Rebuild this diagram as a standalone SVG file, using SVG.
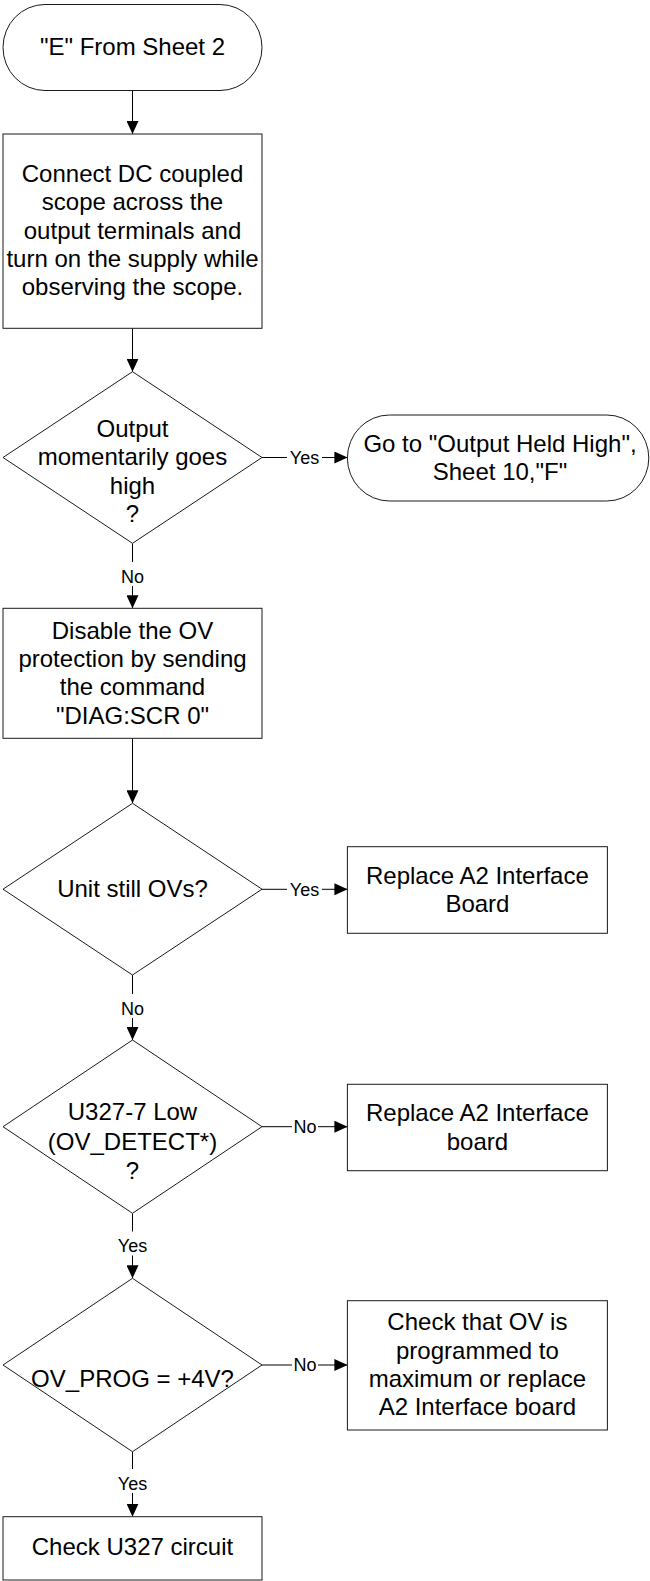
<svg xmlns="http://www.w3.org/2000/svg" width="650" height="1581" viewBox="0 0 650 1581">
<style>
.s{fill:#fff;stroke:#1a1a1a;stroke-width:1}
.t{font-family:"Liberation Sans",Arial,sans-serif;font-size:24px;fill:#000;text-anchor:middle}
.l{font-family:"Liberation Sans",Arial,sans-serif;font-size:18px;fill:#000;text-anchor:middle}
.c{stroke:#000;stroke-width:1;fill:none}
</style>
<defs>
<marker id="a" markerUnits="userSpaceOnUse" markerWidth="13" markerHeight="12" refX="13" refY="6" orient="auto">
<path d="M0,0 L13,6 L0,12 z" fill="#000"/>
</marker>
</defs>
<rect width="650" height="1581" fill="#fff"/>
<g id="connectors">
<line class="c" x1="132.5" y1="90.7" x2="132.5" y2="134" marker-end="url(#a)"/>
<line class="c" x1="132.5" y1="328.3" x2="132.5" y2="371.7" marker-end="url(#a)"/>
<line class="c" x1="262" y1="457.5" x2="287" y2="457.5"/>
<line class="c" x1="322" y1="457.5" x2="347.4" y2="457.5" marker-end="url(#a)"/>
<text class="l" x="304.5" y="463.8">Yes</text>
<line class="c" x1="132.5" y1="543.3" x2="132.5" y2="562"/>
<line class="c" x1="132.5" y1="586" x2="132.5" y2="608.3" marker-end="url(#a)"/>
<text class="l" x="132.5" y="583">No</text>
<line class="c" x1="132.5" y1="738.3" x2="132.5" y2="803.3" marker-end="url(#a)"/>
<line class="c" x1="262" y1="889.3" x2="287" y2="889.3"/>
<line class="c" x1="322" y1="889.3" x2="347.4" y2="889.3" marker-end="url(#a)"/>
<text class="l" x="304.5" y="895.7">Yes</text>
<line class="c" x1="132.5" y1="975" x2="132.5" y2="994"/>
<line class="c" x1="132.5" y1="1018" x2="132.5" y2="1040" marker-end="url(#a)"/>
<text class="l" x="132.5" y="1014.7">No</text>
<line class="c" x1="262" y1="1126.7" x2="292" y2="1126.7"/>
<line class="c" x1="318" y1="1126.7" x2="347.4" y2="1126.7" marker-end="url(#a)"/>
<text class="l" x="305" y="1133">No</text>
<line class="c" x1="132.5" y1="1213.3" x2="132.5" y2="1231.5"/>
<line class="c" x1="132.5" y1="1255.5" x2="132.5" y2="1278.3" marker-end="url(#a)"/>
<text class="l" x="132.5" y="1252.4">Yes</text>
<line class="c" x1="262" y1="1365" x2="292" y2="1365"/>
<line class="c" x1="318" y1="1365" x2="347.4" y2="1365" marker-end="url(#a)"/>
<text class="l" x="305" y="1371.4">No</text>
<line class="c" x1="132.5" y1="1451.7" x2="132.5" y2="1469"/>
<line class="c" x1="132.5" y1="1493" x2="132.5" y2="1516.7" marker-end="url(#a)"/>
<text class="l" x="132.5" y="1489.7">Yes</text>
</g>
<g id="start">
<rect class="s" x="3" y="4.5" width="259" height="86" rx="42" ry="43"/>
<text class="t" x="132.5" y="55.2">"E" From Sheet 2</text>
</g>
<g id="connect">
<rect class="s" x="3" y="134" width="259" height="194.3"/>
<text class="t" x="132.5" y="181.8">Connect DC coupled</text>
<text class="t" x="132.5" y="210.2">scope across the</text>
<text class="t" x="132.5" y="238.5">output terminals and</text>
<text class="t" x="132.5" y="266.8">turn on the supply while</text>
<text class="t" x="132.5" y="295.2">observing the scope.</text>
</g>
<g id="dec1">
<polygon class="s" points="132.5,371.7 262,457.5 132.5,543.3 3,457.5"/>
<text class="t" x="132.5" y="436.8">Output</text>
<text class="t" x="132.5" y="465.2">momentarily goes</text>
<text class="t" x="132.5" y="493.5">high</text>
<text class="t" x="132.5" y="521.8">?</text>
</g>
<g id="goto">
<rect class="s" x="347.4" y="415" width="301.4" height="86" rx="42" ry="43"/>
<text class="t" x="500" y="451.8">Go to "Output Held High",</text>
<text class="t" x="500" y="480.2">Sheet 10,"F"</text>
</g>
<g id="disable">
<rect class="s" x="3" y="608.3" width="259" height="130"/>
<text class="t" x="132.5" y="638.5">Disable the OV</text>
<text class="t" x="132.5" y="666.8">protection by sending</text>
<text class="t" x="132.5" y="695.2">the command</text>
<text class="t" x="132.5" y="723.5">"DIAG:SCR 0"</text>
</g>
<g id="dec2">
<polygon class="s" points="132.5,803.3 262,889.2 132.5,975 3,889.2"/>
<text class="t" x="132.5" y="896.8">Unit still OVs?</text>
</g>
<g id="replace1">
<rect class="s" x="347.4" y="846.7" width="260" height="86.6"/>
<text class="t" x="477.4" y="883.5">Replace A2 Interface</text>
<text class="t" x="477.4" y="911.8">Board</text>
</g>
<g id="dec3">
<polygon class="s" points="132.5,1040 262,1126.7 132.5,1213.3 3,1126.7"/>
<text class="t" x="132.5" y="1120.2">U327-7 Low</text>
<text class="t" x="132.5" y="1149.5">(OV_DETECT*)</text>
<text class="t" x="132.5" y="1178.5">?</text>
</g>
<g id="replace2">
<rect class="s" x="347.4" y="1084.3" width="260" height="86.4"/>
<text class="t" x="477.4" y="1121">Replace A2 Interface</text>
<text class="t" x="477.4" y="1149.5">board</text>
</g>
<g id="dec4">
<polygon class="s" points="132.5,1278.3 262,1365 132.5,1451.7 3,1365"/>
<text class="t" x="132.5" y="1386.8">OV_PROG = +4V?</text>
</g>
<g id="checkov">
<rect class="s" x="347.4" y="1300.7" width="260" height="129.3"/>
<text class="t" x="477.4" y="1330.2">Check that OV is</text>
<text class="t" x="477.4" y="1358.5">programmed to</text>
<text class="t" x="477.4" y="1386.8">maximum or replace</text>
<text class="t" x="477.4" y="1415.2">A2 Interface board</text>
</g>
<g id="checku327">
<rect class="s" x="3" y="1516.7" width="259" height="63.3"/>
<text class="t" x="132.5" y="1555.2">Check U327 circuit</text>
</g>
</svg>
